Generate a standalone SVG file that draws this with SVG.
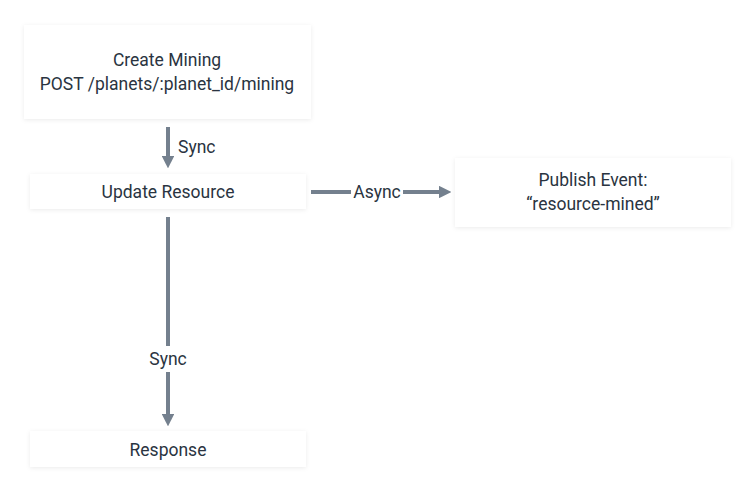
<svg xmlns="http://www.w3.org/2000/svg" width="756" height="492" viewBox="0 0 756 492">
<style>
.box{fill:#ffffff;filter:url(#sh)}
.t{font-family:Roboto,"Liberation Sans",sans-serif;font-size:17.5px;fill:#2a3441;text-anchor:middle;dominant-baseline:central}
.e{stroke:#74808e;stroke-width:4;fill:none}
.lbl{font-family:Roboto,"Liberation Sans",sans-serif;font-size:17.5px;fill:#2a3441;dominant-baseline:central}
</style>
<defs>
<filter id="sh" x="-10%" y="-30%" width="120%" height="160%">
<feDropShadow dx="0" dy="1" stdDeviation="2" flood-color="#000" flood-opacity="0.08"/>
</filter>
<marker id="ah" markerWidth="3.2" markerHeight="3.2" refX="1.6" refY="1.6" orient="auto" markerUnits="strokeWidth" viewBox="0 0 3.2 3.2">
<path d="M0,0 L3.2,1.6 L0,3.2 Z" fill="#74808e"/>
</marker>
</defs>
<rect width="756" height="492" fill="#ffffff"/>
<g id="connectors">
<line class="e" x1="168" y1="127" x2="168" y2="162" marker-end="url(#ah)"/>
<text class="lbl" x="178" y="147">Sync</text>
<line class="e" x1="311" y1="192" x2="351" y2="192"/>
<line class="e" x1="403" y1="192" x2="445" y2="192" marker-end="url(#ah)"/>
<text class="lbl" x="377" y="192" text-anchor="middle">Async</text>
<line class="e" x1="168" y1="217" x2="168" y2="346"/>
<line class="e" x1="168" y1="372" x2="168" y2="420" marker-end="url(#ah)"/>
<text class="lbl" x="168" y="359" text-anchor="middle">Sync</text>
</g>
<g id="create-mining">
<rect class="box" x="24" y="25" width="287" height="94"/>
<text class="t" x="167" y="60">Create Mining</text>
<text class="t" x="167" y="84">POST /planets/:planet_id/mining</text>
</g>
<g id="update-resource">
<rect class="box" x="30" y="174" width="276" height="35"/>
<text class="t" x="168" y="192">Update Resource</text>
</g>
<g id="publish-event">
<rect class="box" x="455" y="158" width="276" height="69"/>
<text class="t" x="593" y="180">Publish Event:</text>
<text class="t" x="593" y="204">“resource-mined”</text>
</g>
<g id="response">
<rect class="box" x="30" y="431" width="276" height="36"/>
<text class="t" x="168" y="450">Response</text>
</g>
</svg>
